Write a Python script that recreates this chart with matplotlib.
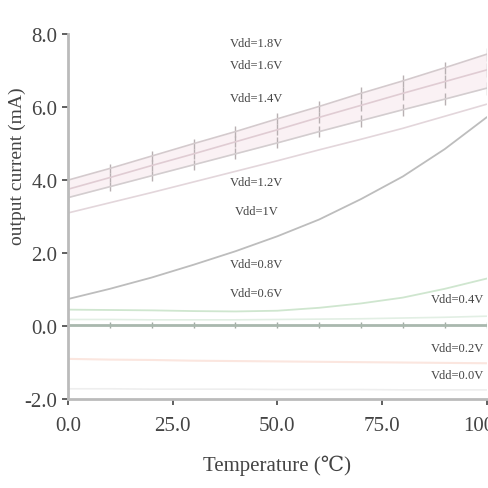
import numpy as np
import matplotlib.pyplot as plt

# temperature points (°C)
temp = [0, 10, 20, 30, 40, 50, 60, 70, 80, 90, 100]

# output current (mA)
vdd18 = [4.00, 4.32, 4.66, 5.00, 5.33, 5.68, 6.02, 6.38, 6.72, 7.08, 7.45]
vdd16 = [3.75, 4.07, 4.40, 4.72, 5.05, 5.38, 5.72, 6.05, 6.38, 6.70, 7.02]
vdd14 = [3.52, 3.82, 4.12, 4.42, 4.72, 5.02, 5.33, 5.63, 5.93, 6.22, 6.52]
vdd12 = [3.10, 3.38, 3.66, 3.95, 4.24, 4.53, 4.83, 5.12, 5.42, 5.75, 6.08]
vdd10 = [0.74, 1.02, 1.33, 1.68, 2.05, 2.46, 2.92, 3.48, 4.10, 4.85, 5.72]
vdd08 = [0.45, 0.44, 0.43, 0.41, 0.40, 0.42, 0.50, 0.62, 0.78, 1.02, 1.30]
vdd06 = [0.18, 0.18, 0.17, 0.17, 0.17, 0.18, 0.19, 0.20, 0.22, 0.24, 0.27]
vdd04 = [0.02, 0.02, 0.02, 0.02, 0.02, 0.02, 0.02, 0.02, 0.02, 0.02, 0.02]
vdd02 = [-0.90, -0.92, -0.93, -0.95, -0.96, -0.97, -0.98, -0.99, -1.00, -1.01, -1.02]
vdd00 = [-1.72, -1.72, -1.73, -1.73, -1.73, -1.74, -1.74, -1.74, -1.75, -1.75, -1.75]

err_band = [0.13, 0.13, 0.14, 0.14, 0.15, 0.15, 0.16, 0.16, 0.17, 0.17, 0.18]
err_zero = [0.08] * 11

labels = ["Vdd=1.8V", "Vdd=1.6V", "Vdd=1.4V", "Vdd=1.2V", "Vdd=1V",
          "Vdd=0.8V", "Vdd=0.6V", "Vdd=0.4V", "Vdd=0.2V", "Vdd=0.0V"]
label_x = [45, 45, 45, 45, 45, 45, 45, 93, 93, 93]
label_y = [7.75, 7.15, 6.25, 3.95, 3.15, 1.7, 0.9, 0.75, -0.6, -1.35]

plt.rcParams['font.family'] = ['Liberation Serif', 'DejaVu Serif']

fig = plt.figure(figsize=(4.89, 4.89), dpi=100)
ax = fig.add_axes([0.139, 0.182, 0.856, 0.746])

ax.fill_between(temp, vdd14, vdd18, color='#f6e4ea', alpha=0.5, lw=0)
ax.errorbar(temp, vdd18, yerr=err_band, color='#d4cacd', lw=1.2, ecolor='#b8b0b2', elinewidth=1)
ax.errorbar(temp, vdd16, yerr=err_band, color='#e0ccd3', lw=1.2, ecolor='#b8b0b2', elinewidth=1)
ax.errorbar(temp, vdd14, yerr=err_band, color='#d3cdcf', lw=1.2, ecolor='#b8b0b2', elinewidth=1)
ax.plot(temp, vdd12, color='#e3d6db', lw=1.2)
ax.plot(temp, vdd10, color='#bdbdbd', lw=1.3)
ax.plot(temp, vdd08, color='#cfe6cf', lw=1.3)
ax.plot(temp, vdd06, color='#e2efe4', lw=1.2)
ax.errorbar(temp, vdd04, yerr=err_zero, color='#a9b8ae', lw=2, ecolor='#a0aaa3', elinewidth=1)
ax.plot(temp, vdd02, color='#fbe6df', lw=1.5)
ax.plot(temp, vdd00, color='#eeeeee', lw=1.2)

for t, x, y in zip(labels, label_x, label_y):
    ax.text(x, y, t, fontsize=9, color='#444444', ha='center', va='center')

ax.set_xlim(0, 100)
ax.set_ylim(-2, 8)
ax.set_xticks([0, 25, 50, 75, 100])
ax.set_xticklabels(['0.0', '25.0', '50.0', '75.0', '100.0'])
ax.set_yticks([-2, 0, 2, 4, 6, 8])
ax.set_yticklabels(['-2.0', '0.0', '2.0', '4.0', '6.0', '8.0'])
ax.tick_params(labelsize=15, colors='#444444', length=4, width=1.2)
ax.tick_params(axis='x', pad=8)

for s in ['top', 'right']:
    ax.spines[s].set_visible(False)
for s in ['left', 'bottom']:
    ax.spines[s].set_color('#bbbbbb')
    ax.spines[s].set_linewidth(2)

ax.set_xlabel('Temperature (℃)', fontsize=15, color='#444444', labelpad=14)
ax.set_ylabel('output current (mA)', fontsize=14, color='#444444')
ax.yaxis.set_label_coords(-0.1, 0.64)

fig.savefig('out.png', dpi=100)
